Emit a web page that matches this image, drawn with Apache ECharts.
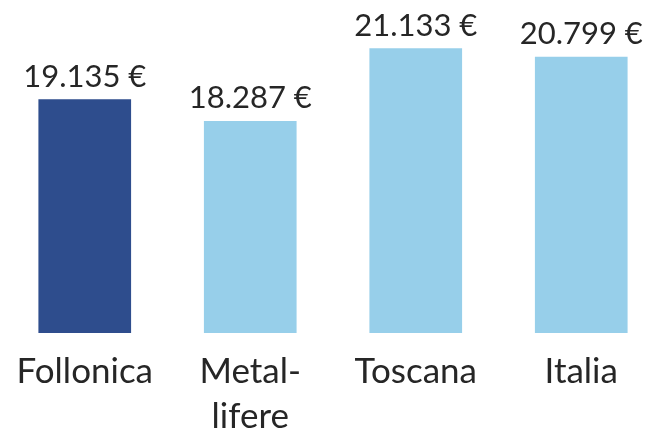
<!DOCTYPE html>
<html><head><meta charset="utf-8">
<script src="https://cdn.jsdelivr.net/npm/echarts@6/dist/echarts.min.js"></script>
<style>html,body{margin:0;padding:0;background:#fff}#c{width:655px;height:437px}</style>
</head><body><div id="c"></div>
<script>
const categories = ['Follonica', 'Metal-\nlifere', 'Toscana', 'Italia'];
const values = [19135, 18287, 21133, 20799];
const barColors = ['#2E4D8D', '#97CFEA', '#97CFEA', '#97CFEA'];

function fmt(v){ return String(v).replace(/\B(?=(\d{3})+(?!\d))/g, '.') + ' €'; }

const chart = echarts.init(document.getElementById('c'), null, {renderer:'canvas'});
chart.setOption({
  animation: false,
  grid: { left: 2, right: -9, top: 26, bottom: 104, containLabel: false, outerBoundsMode: 'none' },
  xAxis: {
    type: 'category', data: categories,
    axisLine: { show: false }, axisTick: { show: false },
    axisLabel: { color: '#262626', fontFamily: 'Lato', fontSize: 35, margin: 16, lineHeight: 45, interval: 0, verticalAlign: 'top' }
  },
  yAxis: { type: 'value', min: 10000, max: 22000, show: false, splitLine: { show: false } },
  series: [{
    type: 'bar', barWidth: '56%',
    data: values.map((v, i) => ({ value: v, itemStyle: { color: barColors[i] } })),
    label: { show: true, position: 'top', distance: 7, color: '#262626', fontFamily: 'Lato', fontSize: 31, formatter: p => fmt(p.value) }
  }]
});
</script></body></html>
